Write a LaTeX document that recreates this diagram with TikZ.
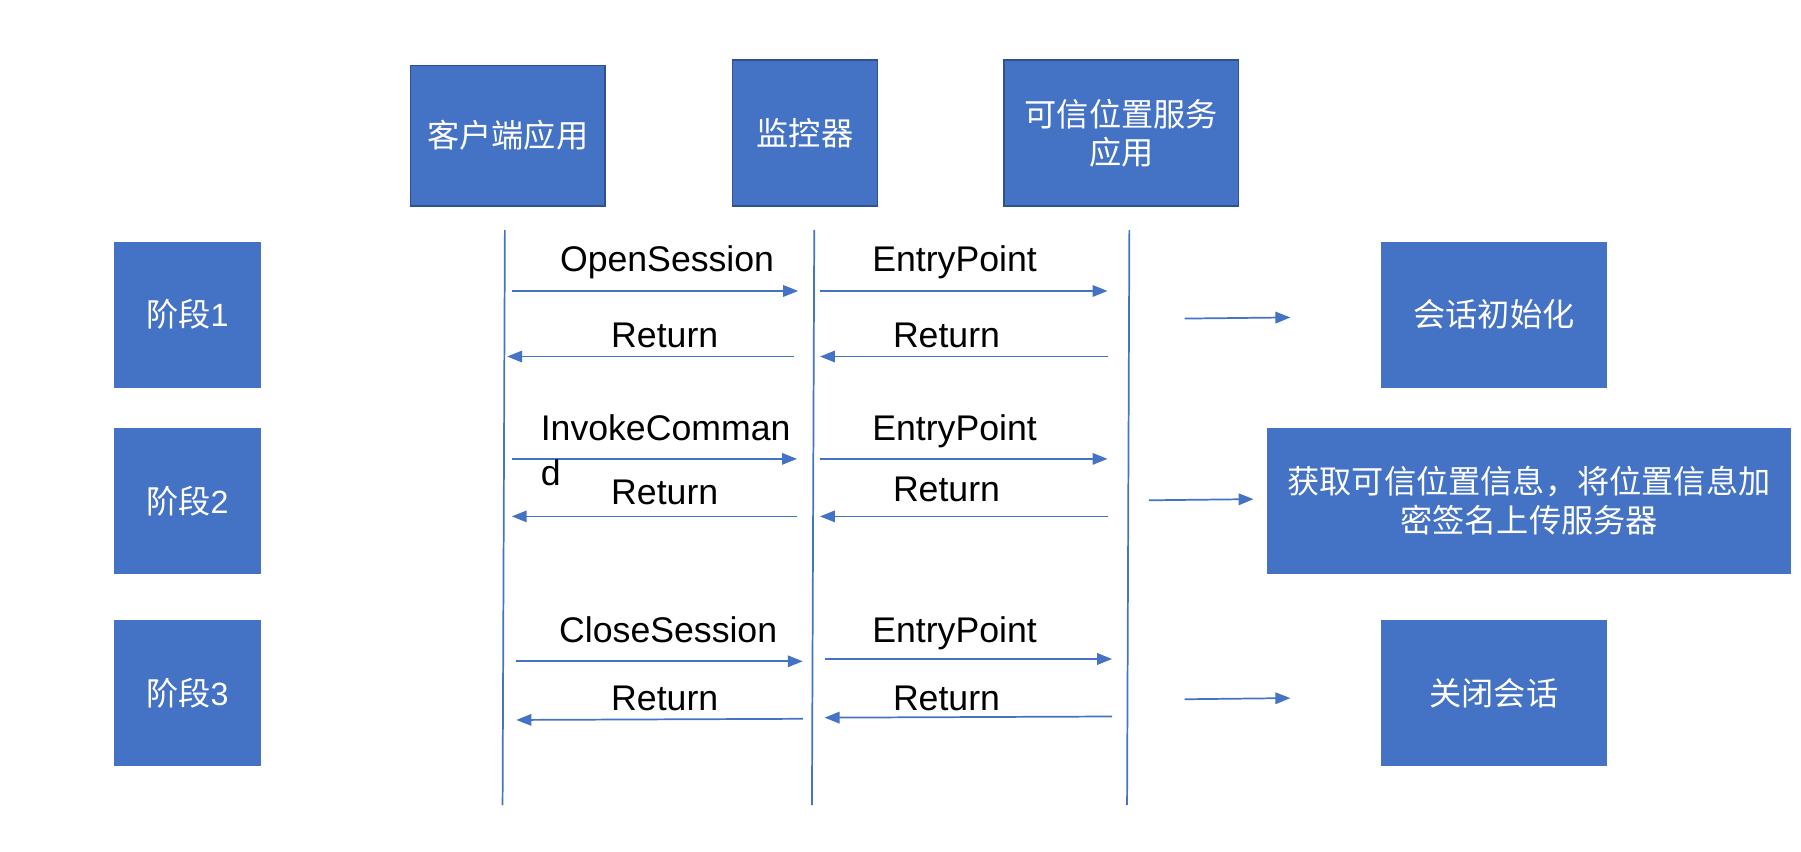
\documentclass[tikz,border=0pt]{standalone}
\usepackage{fontspec}
\setmainfont{Liberation Sans}
\newfontfamily\cjk{Noto Sans CJK SC}
\usetikzlibrary{arrows.meta}
\definecolor{boxblue}{HTML}{4472C4}
\definecolor{boxedge}{HTML}{2F528F}
\begin{document}
\begin{tikzpicture}[x=1pt,y=-1pt,
  actor/.style={draw=boxedge,line width=1.5pt,fill=boxblue,text=white,font=\cjk\fontsize{28}{33}\selectfont,align=center,inner sep=0pt},
  stagebox/.style={fill=boxblue,text=white,font=\cjk\fontsize{28}{34}\selectfont,align=center,inner sep=0pt},
  life/.style={draw=boxblue,line width=1.5pt},
  msg/.style={draw=boxblue,line width=1.5pt,-{Triangle[length=13pt,width=10pt]}},
  lbl/.style={font=\fontsize{31}{36}\selectfont,inner sep=0pt,anchor=base}
]
\useasboundingbox (0,0) rectangle (1566,740);
% actors
\node[actor,minimum width=169pt,minimum height=122pt] (client) at (441.5,118) {客户端应用};
\node[actor,minimum width=126pt,minimum height=127pt] (monitor) at (700,115.5) {监控器};
\node[actor,minimum width=204pt,minimum height=127pt] (ta) at (975,115.5) {可信位置服务\\应用};
% lifelines
\coordinate (l1t) at (439,200); \coordinate (l1b) at (437,700);
\coordinate (l2t) at (708,200); \coordinate (l2b) at (706,700);
\coordinate (l3t) at (982,200); \coordinate (l3b) at (980,700);
\draw[life] (l1t) -- (l1b);
\draw[life] (l2t) -- (l2b);
\draw[life] (l3t) -- (l3b);
% stage boxes
\node[stagebox,minimum width=128pt,minimum height=127pt] (s1) at (163,273.5) {{\cjk 阶段}{\fontspec{Liberation Sans}1}};
\node[stagebox,minimum width=128pt,minimum height=127pt] (s2) at (163,435.5) {{\cjk 阶段}{\fontspec{Liberation Sans}2}};
\node[stagebox,minimum width=128pt,minimum height=127pt] (s3) at (163,602.5) {{\cjk 阶段}{\fontspec{Liberation Sans}3}};
% result boxes
\node[stagebox,minimum width=196pt,minimum height=127pt] (r1) at (1299,273.5) {会话初始化};
\node[stagebox,minimum width=455pt,minimum height=127pt] (r2) at (1329.5,435.5) {获取可信位置信息，将位置信息加\\密签名上传服务器};
\node[stagebox,minimum width=196pt,minimum height=127pt] (r3) at (1299,602.5) {关闭会话};
% stage 1 messages
\coordinate (a1s) at (445,253); \coordinate (a1e) at (694,253);
\coordinate (b1s) at (713,253); \coordinate (b1e) at (963,253);
\coordinate (c1s) at (690,310); \coordinate (c1e) at (441,310);
\coordinate (d1s) at (963,310); \coordinate (d1e) at (713,310);
\coordinate (e1s) at (1030,277); \coordinate (e1e) at (1122,276);
\draw[msg] (a1s) -- (a1e);
\draw[msg] (b1s) -- (b1e);
\draw[msg] (c1s) -- (c1e);
\draw[msg] (d1s) -- (d1e);
\draw[msg] (e1s) -- (e1e);
\node[lbl] (t1a) at (580,236) {OpenSession};
\node[lbl] (t1b) at (830,236) {EntryPoint};
\node[lbl] (t1c) at (578,302) {Return};
\node[lbl] (t1d) at (823,302) {Return};
% stage 2 messages
\coordinate (a2s) at (445,399); \coordinate (a2e) at (693,399);
\coordinate (b2s) at (713,399); \coordinate (b2e) at (963,399);
\coordinate (c2s) at (693,449); \coordinate (c2e) at (445,449);
\coordinate (d2s) at (963,449); \coordinate (d2e) at (713,449);
\coordinate (e2s) at (999,435); \coordinate (e2e) at (1090,434);
\draw[msg] (a2s) -- (a2e);
\draw[msg] (b2s) -- (b2e);
\draw[msg] (c2s) -- (c2e);
\draw[msg] (d2s) -- (d2e);
\draw[msg] (e2s) -- (e2e);
\node[lbl,anchor=base west] (t2a) at (470,383) {InvokeComman};
\node[lbl,anchor=base west] (t2a2) at (470,422) {d};
\node[lbl] (t2b) at (830,383) {EntryPoint};
\node[lbl] (t2c) at (578,439) {Return};
\node[lbl] (t2d) at (823,436) {Return};
% stage 3 messages
\coordinate (a3s) at (449,575); \coordinate (a3e) at (698,575);
\coordinate (b3s) at (717,573); \coordinate (b3e) at (967,573);
\coordinate (c3s) at (698,625); \coordinate (c3e) at (449,626);
\coordinate (d3s) at (967,623); \coordinate (d3e) at (717,624);
\coordinate (e3s) at (1030,608); \coordinate (e3e) at (1122,607);
\draw[msg] (a3s) -- (a3e);
\draw[msg] (b3s) -- (b3e);
\draw[msg] (c3s) -- (c3e);
\draw[msg] (d3s) -- (d3e);
\draw[msg] (e3s) -- (e3e);
\node[lbl] (t3a) at (581,559) {CloseSession};
\node[lbl] (t3b) at (830,559) {EntryPoint};
\node[lbl] (t3c) at (578,618) {Return};
\node[lbl] (t3d) at (823,618) {Return};
\end{tikzpicture}
\end{document}
